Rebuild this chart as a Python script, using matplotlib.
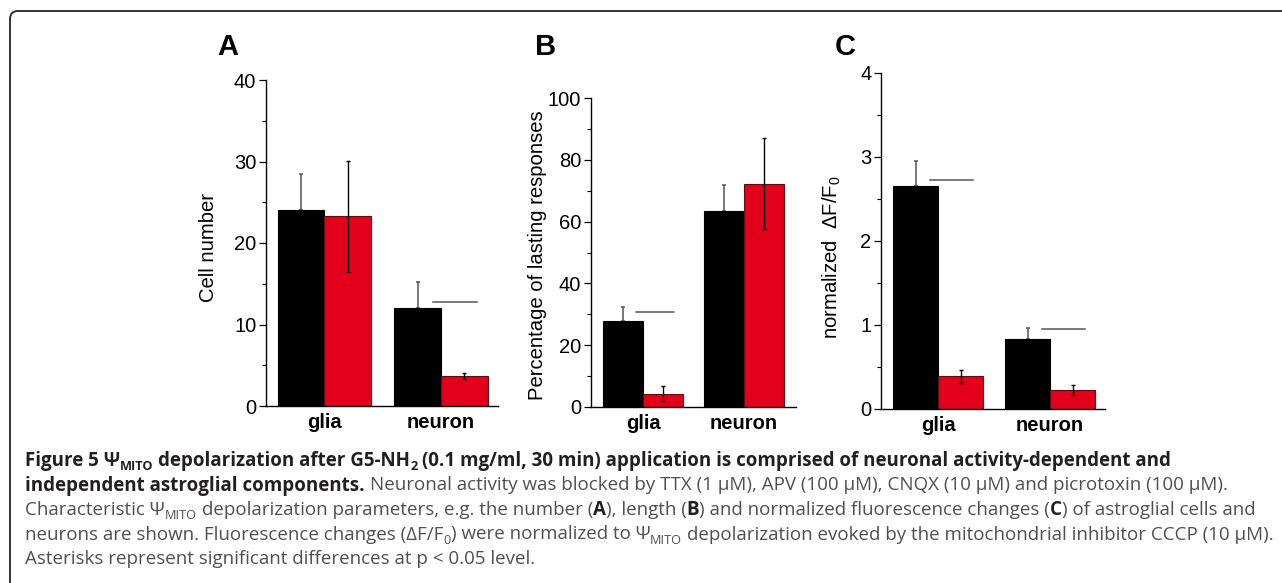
import numpy as np
import matplotlib
matplotlib.use('Agg')
import matplotlib.pyplot as plt
from matplotlib.patches import FancyBboxPatch
from matplotlib.transforms import IdentityTransform

plt.rcParams['font.family'] = ['Liberation Sans', 'DejaVu Sans']
plt.rcParams['mathtext.fontset'] = 'custom'
plt.rcParams['mathtext.rm'] = 'Liberation Sans'
plt.rcParams['mathtext.it'] = 'Liberation Sans'

# ---- data ----
groups = ['glia', 'neuron']

a_ctrl = [24.0, 12.0]
a_ctrl_err = [4.5, 3.2]
a_block = [23.3, 3.7]
a_block_err = [6.8, 0.35]
a_sig = [(1, 12.8)]

b_ctrl = [27.9, 63.5]
b_ctrl_err = [4.4, 8.3]
b_block = [4.3, 72.3]
b_block_err = [2.4, 14.8]
b_sig = [(0, 30.8)]

c_ctrl = [2.65, 0.83]
c_ctrl_err = [0.30, 0.13]
c_block = [0.39, 0.23]
c_block_err = [0.075, 0.06]
c_sig = [(0, 2.73), (1, 0.956)]

RED = '#e2001a'
W, H = 1282, 583

fig = plt.figure(figsize=(W / 100, H / 100), dpi=100)


def panel(rect, ctrl, ctrl_err, block, block_err, sig, ymax, major, minor,
          ylabel, label_xy, letter, letter_xy, xlim):
    ax = fig.add_axes(rect)
    x = np.arange(len(groups))
    w = 0.4
    ax.bar(x - w / 2, ctrl, w, color='black', edgecolor='black', lw=0.8, zorder=2)
    ax.bar(x + w / 2, block, w, color=RED, edgecolor='#5a1010', lw=0.8, zorder=2)
    # control bars: upper error only, grey
    ax.errorbar(x - w / 2, ctrl, yerr=[np.zeros(len(ctrl)), ctrl_err], fmt='none',
                ecolor='#555555', elinewidth=1.1, capsize=1.6, capthick=1.1, zorder=1)
    ax.errorbar(x + w / 2, block, yerr=block_err, fmt='none',
                ecolor='black', elinewidth=1.0, capsize=1.6, capthick=1.0, zorder=3)
    for g, yv in sig:
        ax.plot([g - 0.07, g + 0.31], [yv, yv], color='#555555', lw=1.1)
    ax.set_xlim(*xlim)
    ax.set_ylim(0, ymax)
    ax.set_yticks(major)
    ax.set_yticks(minor, minor=True)
    ax.set_xticks(x)
    ax.set_xticklabels(groups, fontsize=14.5, fontweight='bold')
    ax.tick_params(axis='x', length=0, pad=5)
    ax.tick_params(axis='y', which='major', length=5, width=0.9, labelsize=14.5, pad=2)
    ax.tick_params(axis='y', which='minor', length=3, width=0.8)
    for s in ['top', 'right']:
        ax.spines[s].set_visible(False)
    for s in ['left', 'bottom']:
        ax.spines[s].set_linewidth(1.0)
    ax.set_ylabel(ylabel, fontsize=14.6, va='center')
    ax.yaxis.set_label_coords(*label_xy)
    fig.text(letter_xy[0] / W, 1 - letter_xy[1] / H, letter, fontsize=21,
             fontweight='bold', ha='left', va='baseline')
    return ax


panel([266 / W, 1 - 406 / H, 232 / W, 326 / H], a_ctrl, a_ctrl_err, a_block,
      a_block_err, a_sig, 40, [0, 10, 20, 30, 40], [5, 15, 25, 35],
      'Cell number', (-0.25, 0.485), 'A', (217, 55), (-0.5, 1.49))
panel([591 / W, 1 - 407 / H, 205 / W, 309 / H], b_ctrl, b_ctrl_err, b_block,
      b_block_err, b_sig, 100, [0, 20, 40, 60, 80, 100], [10, 30, 50, 70, 90],
      'Percentage of lasting responses', (-0.263, 0.49), 'B', (535, 55), (-0.515, 1.515))
panel([881 / W, 1 - 409 / H, 224 / W, 336 / H], c_ctrl, c_ctrl_err, c_block,
      c_block_err, c_sig, 4, [0, 1, 2, 3, 4], [0.5, 1.5, 2.5, 3.5],
      r'normalized  $\Delta$F/F$_0$', (-0.219, 0.452), 'C', (835, 55), (-0.51, 1.49))

# frame with rounded top-left corner
frame = FancyBboxPatch((10, -30), W + 40, H + 30 - 11,
                       boxstyle='round,pad=0,rounding_size=8',
                       transform=IdentityTransform(), fill=False,
                       edgecolor='#333333', lw=1.4, figure=fig)
fig.patches.append(frame)

# ---- caption ----
cap_font = ['Open Sans', 'DejaVu Sans']
cap_size = 13.5
renderer = fig.canvas.get_renderer()

caption = [
    [("Figure 5 Ψ", 'b'), ("MITO", 'bs'), (" depolarization after G5-NH", 'b'), ("2", 'bs'),
     (" (0.1 mg/ml, 30 min) application is comprised of neuronal activity-dependent and", 'b')],
    [("independent astroglial components.", 'b'),
     (" Neuronal activity was blocked by TTX (1 μM), APV (100 μM), CNQX (10 μM) and picrotoxin (100 μM).", 'n')],
    [("Characteristic Ψ", 'n'), ("MITO", 'ns'), (" depolarization parameters, e.g. the number (", 'n'),
     ("A", 'b'), ("), length (", 'n'), ("B", 'b'), (") and normalized fluorescence changes (", 'n'),
     ("C", 'b'), (") of astroglial cells and", 'n')],
    [("neurons are shown. Fluorescence changes (ΔF/F", 'n'), ("0", 'ns'),
     (") were normalized to Ψ", 'n'), ("MITO", 'ns'),
     (" depolarization evoked by the mitochondrial inhibitor CCCP (10 μM).", 'n')],
    [("Asterisks represent significant differences at p < 0.05 level.", 'n')],
]


def text_width(s, size, weight):
    t = fig.text(0, 0, s, fontsize=size, fontweight=weight, family=cap_font)
    wd = t.get_window_extent(renderer).width
    t.remove()
    return wd


def space_width(size, weight):
    return text_width('x x', size, weight) - text_width('xx', size, weight)


baselines = [466, 490.5, 515, 539.5, 564]
for line, base in zip(caption, baselines):
    xp = 25
    for s, style in line:
        weight = 'bold' if style.startswith('b') else 'normal'
        color = '#231f20' if weight == 'bold' else '#505050'
        size = cap_size * 0.68 if style.endswith('s') else cap_size
        dy = 4 if style.endswith('s') else 0
        core = s.strip(' ')
        if s.startswith(' '):
            xp += space_width(cap_size, weight)
        t = fig.text(xp / W, 1 - (base + dy) / H, core, fontsize=size,
                     fontweight=weight, family=cap_font, color=color,
                     ha='left', va='baseline')
        xp += t.get_window_extent(renderer).width
        if s.endswith(' '):
            xp += space_width(cap_size, weight)

fig.savefig('out.png', dpi=100)
